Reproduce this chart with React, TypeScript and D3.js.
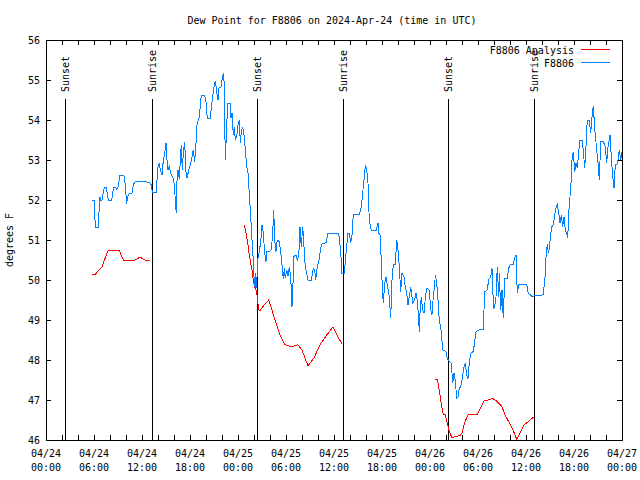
import React from "react";
import * as d3 from "d3";

// ---- data (hours since 2024-04-24 00:00 UTC, dew point °F) ----
const stationObs: [number, number][] = [
  [5.79, 51.99], [6.04, 51.99], [6.13, 51.48], [6.21, 51.31], [6.59, 51.31], [6.59, 51.58], [6.75, 52.08], [6.84, 52.0],
  [7.0, 52.0], [7.09, 52.1], [7.29, 52.32], [7.54, 52.32], [7.79, 52.0], [8.21, 52.0], [8.46, 52.32], [8.71, 52.32],
  [8.79, 52.27], [9.04, 52.33], [9.21, 52.61], [9.75, 52.61], [9.91, 52.38], [10.09, 51.89], [10.16, 52.05], [10.41, 52.17],
  [10.75, 52.17], [10.91, 52.38], [11.16, 52.46], [11.59, 52.46], [12.0, 52.45], [12.5, 52.46], [13.0, 52.43], [13.16, 52.38],
  [13.29, 52.18], [13.75, 52.18], [14.0, 52.83], [14.16, 52.9], [14.34, 52.71], [14.5, 52.63], [14.63, 52.92], [14.84, 53.17],
  [15.0, 53.42], [15.09, 53.08], [15.25, 52.75], [15.41, 52.85], [15.59, 52.67], [15.91, 52.54], [16.09, 52.33], [16.16, 51.93],
  [16.29, 51.68], [16.38, 52.5], [16.5, 52.75], [16.66, 52.52], [16.91, 53.38], [17.04, 52.75], [17.16, 53.17], [17.34, 53.46],
  [17.46, 52.75], [17.63, 52.54], [17.84, 52.75], [18.09, 52.92], [18.25, 53.08], [18.41, 53.25], [18.59, 52.96], [18.75, 53.42],
  [18.88, 53.88], [19.16, 54.08], [19.41, 54.61], [19.84, 54.61], [20.0, 54.46], [20.16, 54.04], [20.5, 54.03], [20.66, 54.29],
  [20.84, 54.58], [21.0, 54.83], [21.16, 54.98], [21.34, 54.71], [21.5, 54.5], [21.59, 54.79], [21.88, 54.83], [22.0, 55.0],
  [22.16, 55.17], [22.29, 54.88], [22.41, 53.0], [22.5, 53.42], [22.63, 54.04], [22.71, 54.42], [23.0, 54.42], [23.13, 54.04],
  [23.25, 54.17], [23.41, 53.63], [23.54, 53.83], [23.66, 53.5], [23.84, 53.58], [24.0, 53.88], [24.16, 54.0], [24.29, 53.42],
  [24.41, 53.71], [24.59, 53.83], [24.75, 53.63], [24.91, 53.29], [25.09, 52.83], [25.25, 52.67], [25.41, 52.17], [25.59, 51.58],
  [25.75, 51.0], [25.91, 50.5], [26.0, 50.08], [26.13, 49.83], [26.21, 50.17], [26.29, 49.79], [26.41, 50.17], [26.5, 50.54],
  [26.66, 50.71], [26.84, 50.96], [27.0, 51.38], [27.16, 51.17], [27.34, 50.67], [27.5, 50.46], [27.59, 50.71], [27.91, 50.71],
  [28.16, 50.75], [28.34, 51.17], [28.46, 51.75], [28.59, 51.0], [28.75, 50.71], [28.91, 51.0], [29.16, 50.96], [29.41, 50.58],
  [29.66, 50.02], [29.79, 50.29], [29.91, 50.04], [30.09, 50.25], [30.25, 50.1], [30.41, 50.33], [30.59, 50.08], [30.75, 49.33],
  [30.84, 49.63], [30.96, 50.58], [31.25, 50.63], [31.41, 50.5], [31.59, 50.58], [31.75, 51.33], [31.91, 50.83], [32.09, 51.33],
  [32.25, 50.83], [32.41, 50.33], [32.59, 50.17], [32.75, 50.0], [33.16, 50.0], [33.41, 50.29], [33.59, 50.25], [33.71, 50.0],
  [33.91, 50.33], [34.09, 50.46], [34.25, 50.67], [34.41, 50.88], [34.66, 50.92], [35.0, 50.93], [35.25, 51.17], [36.59, 51.17],
  [36.75, 50.88], [36.91, 50.5], [37.0, 50.17], [37.29, 50.17], [37.5, 50.67], [37.75, 51.17], [37.91, 51.17], [38.09, 50.92],
  [38.25, 51.13], [38.41, 51.63], [39.16, 51.63], [39.34, 51.75], [39.5, 52.0], [39.66, 52.33], [39.84, 52.67], [39.91, 52.88],
  [40.09, 52.75], [40.25, 52.42], [40.41, 51.5], [40.66, 51.25], [41.25, 51.23], [41.5, 51.42], [41.59, 51.17], [41.75, 51.13],
  [41.91, 50.5], [42.0, 50.0], [42.16, 49.42], [42.34, 49.92], [42.5, 50.08], [42.66, 49.88], [42.91, 49.58], [43.09, 49.04],
  [43.25, 50.0], [43.41, 50.38], [43.66, 50.38], [43.84, 51.0], [44.0, 50.75], [44.16, 50.33], [44.34, 49.71], [44.5, 50.17],
  [44.75, 50.08], [44.91, 49.83], [45.09, 49.67], [45.25, 49.38], [45.41, 49.58], [45.59, 49.83], [45.84, 49.42], [46.09, 49.5],
  [46.25, 49.67], [46.41, 49.5], [46.59, 49.0], [46.66, 48.71], [46.75, 49.17], [46.91, 49.58], [47.09, 49.25], [47.25, 49.17],
  [47.41, 49.54], [47.59, 49.79], [47.91, 49.75], [48.09, 49.25], [48.25, 49.13], [48.41, 49.58], [48.59, 49.88], [48.66, 50.13],
  [48.84, 49.92], [49.0, 49.5], [49.16, 49.0], [49.41, 48.71], [49.59, 48.25], [50.0, 48.21], [50.16, 48.04], [50.41, 47.96],
  [50.66, 47.92], [50.84, 47.42], [51.0, 47.67], [51.16, 47.5], [51.34, 47.04], [51.5, 47.08], [51.66, 47.29], [51.84, 47.33],
  [52.0, 47.5], [52.25, 47.83], [52.41, 47.92], [52.59, 47.63], [52.75, 47.54], [52.91, 47.92], [53.09, 48.17], [53.41, 48.21],
  [53.59, 48.46], [53.75, 48.71], [54.16, 48.75], [54.66, 48.77], [54.75, 49.25], [54.84, 49.71], [55.16, 49.75], [55.34, 50.02],
  [55.59, 50.07], [55.75, 50.29], [55.84, 50.0], [55.91, 49.29], [56.09, 49.33], [56.25, 49.58], [56.41, 50.33], [56.59, 49.58],
  [56.66, 50.17], [56.84, 49.25], [57.0, 49.75], [57.16, 49.04], [57.34, 50.04], [57.66, 50.04], [57.84, 50.29], [58.0, 50.38],
  [58.41, 50.38], [58.63, 50.58], [58.75, 50.63], [58.91, 49.67], [59.09, 49.9], [59.66, 49.9], [60.09, 49.88], [60.29, 49.67],
  [60.71, 49.6], [61.0, 49.6], [62.16, 49.63], [62.38, 50.08], [62.5, 50.58], [62.66, 50.9], [62.79, 50.67], [62.91, 50.79],
  [63.09, 51.13], [63.21, 51.33], [63.41, 51.38], [63.59, 51.63], [63.75, 51.79], [63.91, 51.88], [64.09, 51.67], [64.25, 51.42],
  [64.41, 51.63], [64.59, 51.33], [64.75, 51.58], [64.91, 51.25], [65.09, 51.17], [65.21, 51.04], [65.41, 51.92], [65.59, 52.25],
  [65.66, 52.58], [65.75, 53.0], [65.91, 53.21], [66.09, 52.71], [66.25, 52.92], [66.41, 52.79], [66.59, 53.21], [66.75, 53.5],
  [67.0, 53.5], [67.16, 53.25], [67.34, 52.79], [67.5, 53.33], [67.66, 54.0], [67.91, 54.0], [68.09, 53.67], [68.25, 54.08],
  [68.41, 54.35], [68.59, 53.79], [68.84, 53.25], [69.0, 52.92], [69.16, 52.5], [69.34, 53.46], [69.66, 53.46], [69.91, 53.33],
  [70.09, 52.92], [70.25, 53.33], [70.5, 53.63], [70.66, 53.08], [70.84, 52.58], [71.0, 52.29], [71.16, 52.88], [71.34, 52.88],
  [71.5, 53.0], [71.66, 53.25], [71.84, 53.0], [72.0, 53.21],
];

const analysisSeg1: [number, number][] = [
  [5.79, 50.14], [6.13, 50.14], [6.54, 50.23], [6.96, 50.31], [7.38, 50.54], [7.79, 50.75], [9.13, 50.75],
  [9.66, 50.5], [11.13, 50.5], [11.75, 50.57], [12.38, 50.5], [13.0, 50.5],
];
const analysisSeg2: [number, number][] = [
  [24.79, 51.38], [25.09, 51.08], [25.25, 50.88], [25.41, 50.63], [25.59, 50.42], [25.75, 50.25], [25.91, 50.0],
  [26.09, 49.83], [26.25, 49.75], [26.41, 49.58], [26.59, 49.25], [26.75, 49.23], [27.09, 49.33], [27.5, 49.43],
  [27.84, 49.5], [28.13, 49.33], [28.54, 49.04], [29.25, 48.63], [29.88, 48.38], [30.75, 48.33], [31.5, 48.38],
  [32.0, 48.25], [32.75, 47.85], [33.5, 48.05], [34.25, 48.38], [35.0, 48.6], [35.88, 48.83], [36.5, 48.58], [37.0, 48.4],
];
const analysisSeg3: [number, number][] = [
  [48.66, 47.52], [48.94, 47.52], [49.09, 47.32], [49.34, 47.0], [49.5, 46.79], [49.66, 46.65], [49.91, 46.63],
  [50.16, 46.42], [50.41, 46.21], [50.75, 46.06], [51.16, 46.08], [51.75, 46.11], [52.0, 46.18], [52.38, 46.46],
  [52.79, 46.64], [53.34, 46.63], [53.91, 46.63], [54.34, 46.82], [54.79, 46.98], [55.29, 47.0], [55.84, 47.04],
  [56.41, 46.96], [56.96, 46.85], [57.38, 46.63], [57.91, 46.43], [58.41, 46.23], [58.84, 46.02], [59.34, 46.21],
  [59.75, 46.38], [60.29, 46.46], [60.91, 46.57],
];
const analysisSegments = [analysisSeg1, analysisSeg2, analysisSeg3];

const sunEventHours = [2.42, 13.21, 26.42, 37.17, 50.29, 61.0];
const sunEventLabels = ["Sunset", "Sunrise", "Sunset", "Sunrise", "Sunset", "Sunrise"];

const yTicks = [46, 47, 48, 49, 50, 51, 52, 53, 54, 55, 56];
const titleText = "Dew Point for F8806 on 2024-Apr-24 (time in UTC)";
const yLabel = "degrees F";
const seriesNames = ["F8806 Analysis", "F8806"];

const BASE = Date.UTC(2024, 3, 24, 0, 0);
const toDate = (h: number) => new Date(BASE + h * 3600e3);

export default function App() {
  const W = 640, H = 480;
  const L = 46, R = 622, T = 40, B = 440;
  const FONT = "'DejaVu Sans Mono', monospace";
  const x = d3.scaleUtc().domain([toDate(0), toDate(72)]).range([L, R]);
  const y = d3.scaleLinear().domain([46, 56]).range([B, T]);
  const line = d3
    .line<[number, number]>()
    .x((d) => x(toDate(d[0])))
    .y((d) => y(d[1]));

  const minorTicks = d3.utcHour.every(2)!.range(toDate(0), toDate(72.01));
  const labelTicks = d3.utcHour.every(6)!.range(toDate(0), toDate(72.01));
  const fmtDate = d3.utcFormat("%m/%d");
  const fmtTime = d3.utcFormat("%H:%M");
  const RED = "#ff0000";
  const BLUE = "#0080ff";

  return (
    <svg
      width={W}
      height={H}
      style={{ position: "absolute", left: 0, top: 0, background: "#fff" }}
      fontFamily={FONT}
      fontSize={10}
    >
      <rect x={0} y={0} width={W} height={H} fill="#fff" />
      <text x={332} y={24} textAnchor="middle">{titleText}</text>
      <text transform="translate(13,240) rotate(-90)" textAnchor="middle">{yLabel}</text>

      {/* ticks */}
      <g stroke="#000" strokeWidth={1} shapeRendering="crispEdges">
        {minorTicks.map((t, i) => (
          <g key={"xt" + i}>
            <line x1={x(t)} x2={x(t)} y1={B} y2={B - 5} />
            <line x1={x(t)} x2={x(t)} y1={T} y2={T + 5} />
          </g>
        ))}
        {yTicks.map((v) => (
          <g key={"yt" + v}>
            <line x1={L} x2={L + 5} y1={y(v)} y2={y(v)} />
            <line x1={R} x2={R - 5} y1={y(v)} y2={y(v)} />
          </g>
        ))}
      </g>
      {yTicks.map((v) => (
        <text key={"yl" + v} x={40} y={y(v) + 3.5} textAnchor="end">{v}</text>
      ))}
      {labelTicks.map((t, i) => (
        <g key={"xl" + i}>
          <text x={x(t)} y={457} textAnchor="middle">{fmtDate(t)}</text>
          <text x={x(t)} y={471} textAnchor="middle">{fmtTime(t)}</text>
        </g>
      ))}

      {/* sunrise / sunset */}
      {sunEventHours.map((h, i) => {
        const sx = Math.round(x(toDate(h)));
        return (
          <g key={"sun" + i}>
            <line x1={sx} x2={sx} y1={99} y2={B} stroke="#000" strokeWidth={1} shapeRendering="crispEdges" />
            <text transform={`translate(${sx + 4},92) rotate(-90)`} textAnchor="start">{sunEventLabels[i]}</text>
          </g>
        );
      })}

      {/* data */}
      <g fill="none" strokeWidth={1} shapeRendering="crispEdges">
        {analysisSegments.map((seg, i) => (
          <path key={"a" + i} d={line(seg) || ""} stroke={RED} />
        ))}
        <path d={line(stationObs) || ""} stroke={BLUE} />
      </g>

      {/* legend */}
      <text x={574} y={54} textAnchor="end">{seriesNames[0]}</text>
      <line x1={581} x2={610} y1={49.5} y2={49.5} stroke={RED} shapeRendering="crispEdges" />
      <text x={574} y={66.5} textAnchor="end">{seriesNames[1]}</text>
      <line x1={581} x2={610} y1={62} y2={62} stroke={BLUE} shapeRendering="crispEdges" />

      {/* frame */}
      <rect x={L} y={T} width={R - L} height={B - T} fill="none" stroke="#000" strokeWidth={1} shapeRendering="crispEdges" />
    </svg>
  );
}
